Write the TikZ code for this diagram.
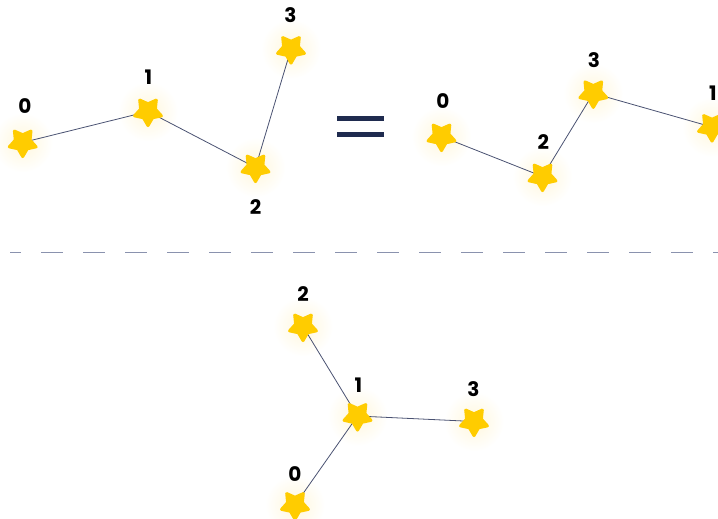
\documentclass[tikz,border=0pt]{standalone}
\usepackage{fontspec}
\setmainfont{Poppins}
\usetikzlibrary{shapes.geometric,backgrounds}
\definecolor{staryel}{HTML}{FFCC00}
\definecolor{glowyel}{HTML}{FFF7DC}
\definecolor{edgecol}{HTML}{4A5272}
\definecolor{navy}{HTML}{1F2B4F}
\definecolor{dashcol}{HTML}{8A92AE}
\tikzset{
  starnode/.style={star, star points=5, star point ratio=0.55, fill=staryel, draw=staryel,
    line join=round, line width=3pt, minimum size=15.5pt, inner sep=0pt},
  lbl/.style={font=\bfseries\fontsize{20}{20}\selectfont, text=black, inner sep=0pt},
  edge/.style={draw=edgecol, line width=0.8pt},
  glow/.style={inner color=glowyel, outer color=white},
  eqline/.style={draw=navy, line width=4.3pt},
  sepline/.style={draw=dashcol, line width=1.4pt, dash pattern=on 21.5pt off 20.5pt, dash phase=11pt}
}
\newcommand{\glowat}[1]{\shade[glow] (#1) circle (30pt);}
\begin{document}
\begin{tikzpicture}[x=1pt,y=-1pt]
\useasboundingbox (0,0) rectangle (718,519);
% top left
\node[starnode] (a0) at (22.7,142.5) {};
\node[starnode] (a1) at (148,111.5) {};
\node[starnode] (a2) at (255.5,167.5) {};
\node[starnode] (a3) at (291,49) {};
\node[lbl] (la0) at (25,106) {0};
\node[lbl] (la1) at (148.5,77) {1};
\node[lbl] (la2) at (255.5,207) {2};
\node[lbl] (la3) at (290.5,15) {3};
% equals
\draw[eqline] (337,118.5) -- (384,118.5);
\draw[eqline] (337,134.5) -- (384,134.5);
% top right
\node[starnode] (b0) at (441.5,136.5) {};
\node[starnode] (b2) at (542.5,176.5) {};
\node[starnode] (b3) at (593.3,93.3) {};
\node[starnode] (b1) at (712,127) {};
\node[lbl] (lb0) at (443,101) {0};
\node[lbl] (lb2) at (543.3,142.3) {2};
\node[lbl] (lb3) at (594,60) {3};
\node[lbl] (lb1) at (713,93) {1};
% separator
\draw[sepline] (10,252.3) -- (718,252.3);
% bottom
\node[starnode] (c2) at (303,326.5) {};
\node[starnode] (c1) at (357.5,416) {};
\node[starnode] (c3) at (474,421.5) {};
\node[starnode] (c0) at (295,505) {};
\node[lbl] (lc2) at (303,294) {2};
\node[lbl] (lc1) at (358.3,385) {1};
\node[lbl] (lc3) at (473.5,389) {3};
\node[lbl] (lc0) at (295,474) {0};
\begin{scope}[on background layer]
  \glowat{a0}\glowat{a1}\glowat{a2}\glowat{a3}
  \glowat{b0}\glowat{b1}\glowat{b2}\glowat{b3}
  \glowat{c0}\glowat{c1}\glowat{c2}\glowat{c3}
  \draw[edge] (a0.center) -- (a1.center) -- (a2.center) -- (a3.center);
  \draw[edge] (b0.center) -- (b2.center) -- (b3.center) -- (b1.center);
  \draw[edge] (c2.center) -- (c1.center) -- (c3.center);
  \draw[edge] (c1.center) -- (c0.center);
\end{scope}
\end{tikzpicture}
\end{document}
